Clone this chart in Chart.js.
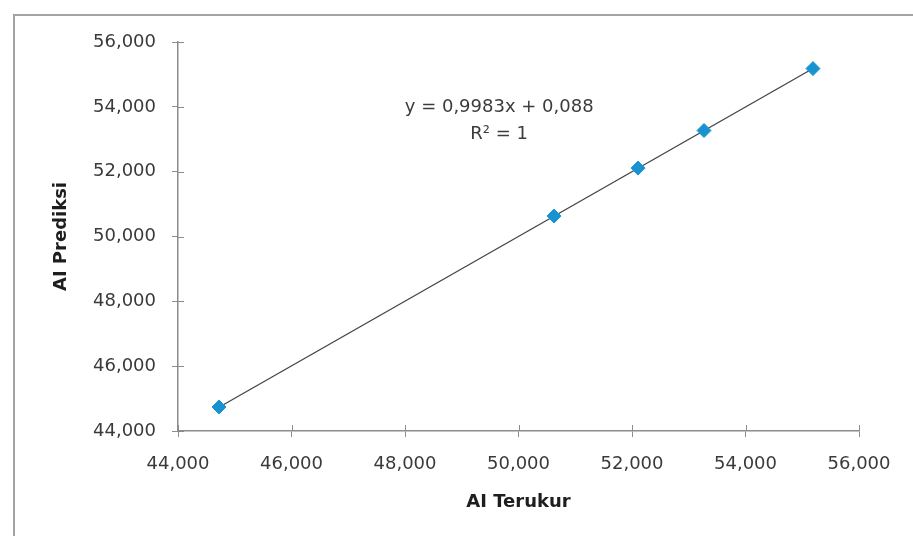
<!DOCTYPE html>
<html>
<head>
<meta charset="utf-8">
<script src="https://cdn.jsdelivr.net/npm/chart.js@4/dist/chart.umd.min.js"></script>
<style>
  html, body { margin: 0; padding: 0; background: #ffffff; }
  body { width: 913px; height: 536px; position: relative; overflow: hidden; }
  #frame {
    position: absolute; left: 13px; top: 14px;
    width: 1000px; height: 600px;
    border-left: 2px solid #a3a3a3; border-top: 2px solid #a3a3a3;
    box-sizing: border-box;
  }
  #wrap { position: absolute; left: 0; top: 0; width: 913px; height: 536px; }
</style>
</head>
<body>
<div id="frame"></div>
<div id="wrap"><canvas id="chart"></canvas></div>
<script>
// Measured vs. predicted Al values
const measured  = [44.722, 50.626, 52.106, 53.269, 55.189];   // AI Terukur
const predicted = [44.740, 50.630, 52.110, 53.270, 55.180];   // AI Prediksi

// Linear fit shown on the chart
const slope = 0.9983;
const intercept = 0.088;
const rSquared = 1;

// Axis ticks (same for both axes)
const axisTicks = [44, 46, 48, 50, 52, 54, 56];

const xTitle = 'AI Terukur';
const yTitle = 'AI Prediksi';

// Where the fit equation is written (data units)
const eqAnchor = { x: 49.66, y: 53.98 };

const fmt = (v, d) => v.toFixed(d).replace('.', ',');

const points = measured.map((x, i) => ({ x, y: predicted[i] }));
const xMin = Math.min(...measured), xMax = Math.max(...measured);
const trend = [xMin, xMax].map(x => ({ x, y: slope * x + intercept }));

const axisColor = '#8c8c8c';
const tickFont = { family: 'DejaVu Sans', size: 18, lineHeight: 1.2 };
const titleFont = { family: 'DejaVu Sans', size: 18, weight: 'bold', lineHeight: 1 };

// Excel-style tick marks that cross the axis line, plus the fit equation
const extras = {
  id: 'extras',
  afterDraw(chart) {
    const { ctx, scales: { x, y } } = chart;
    ctx.save();
    ctx.strokeStyle = axisColor;
    ctx.lineWidth = 1;
    ctx.beginPath();
    axisTicks.forEach(v => {
      const px = Math.round(x.getPixelForValue(v)) + 0.5;
      ctx.moveTo(px, x.top); ctx.lineTo(px, x.top - 6);
      const py = Math.round(y.getPixelForValue(v)) + 0.5;
      ctx.moveTo(y.right, py); ctx.lineTo(y.right + 6, py);
    });
    ctx.stroke();

    const ex = x.getPixelForValue(eqAnchor.x);
    const ey = y.getPixelForValue(eqAnchor.y);
    ctx.fillStyle = '#3c3c3c';
    ctx.font = '18px "DejaVu Sans"';
    ctx.textAlign = 'center';
    ctx.textBaseline = 'middle';
    const sign = intercept >= 0 ? '+' : '-';
    ctx.fillText(`y = ${fmt(slope, 4)}x ${sign} ${fmt(Math.abs(intercept), 3)}`, ex, ey);
    ctx.fillText(`R\u00B2 = ${rSquared}`, ex, ey + 27);
    ctx.restore();
  }
};

new Chart(document.getElementById('chart'), {
  type: 'scatter',
  data: {
    datasets: [
      {
        label: 'Al',
        data: points,
        pointStyle: 'rectRot',
        pointRadius: 7,
        pointHoverRadius: 7,
        backgroundColor: '#1893d0',
        borderColor: '#1893d0',
        borderWidth: 1,
        order: 1
      },
      {
        type: 'line',
        label: 'Linear',
        data: trend,
        borderColor: '#444444',
        borderWidth: 1.3,
        pointRadius: 0,
        fill: false,
        order: 2
      }
    ]
  },
  options: {
    responsive: true,
    maintainAspectRatio: false,
    animation: false,
    events: [],
    layout: { padding: { left: 52, right: 54, top: 42, bottom: 25 } },
    plugins: { legend: { display: false }, tooltip: { enabled: false } },
    scales: {
      x: {
        type: 'linear',
        min: axisTicks[0],
        max: axisTicks[axisTicks.length - 1],
        afterBuildTicks: s => { s.ticks = axisTicks.map(v => ({ value: v })); },
        afterFit: s => { s.height = 80; },
        border: { display: true, color: axisColor, width: 1.5 },
        grid: { drawOnChartArea: false, drawTicks: true, tickLength: 6, color: axisColor },
        ticks: { font: tickFont, color: '#3a3a3a', padding: 17, maxRotation: 0, callback: v => fmt(v, 3) },
        title: { display: true, text: xTitle, font: titleFont, color: '#1e1e1e', padding: 0 }
      },
      y: {
        type: 'linear',
        min: axisTicks[0],
        max: axisTicks[axisTicks.length - 1],
        afterBuildTicks: s => { s.ticks = axisTicks.map(v => ({ value: v })); },
        afterFit: s => { s.width = 126; },
        border: { display: true, color: axisColor, width: 1.5 },
        grid: { drawOnChartArea: false, drawTicks: true, tickLength: 6, color: axisColor },
        ticks: { font: tickFont, color: '#3a3a3a', padding: 16, callback: v => fmt(v, 3) },
        title: { display: true, text: yTitle, font: titleFont, color: '#1e1e1e', padding: 0 }
      }
    }
  },
  plugins: [extras]
});
</script>
</body>
</html>
